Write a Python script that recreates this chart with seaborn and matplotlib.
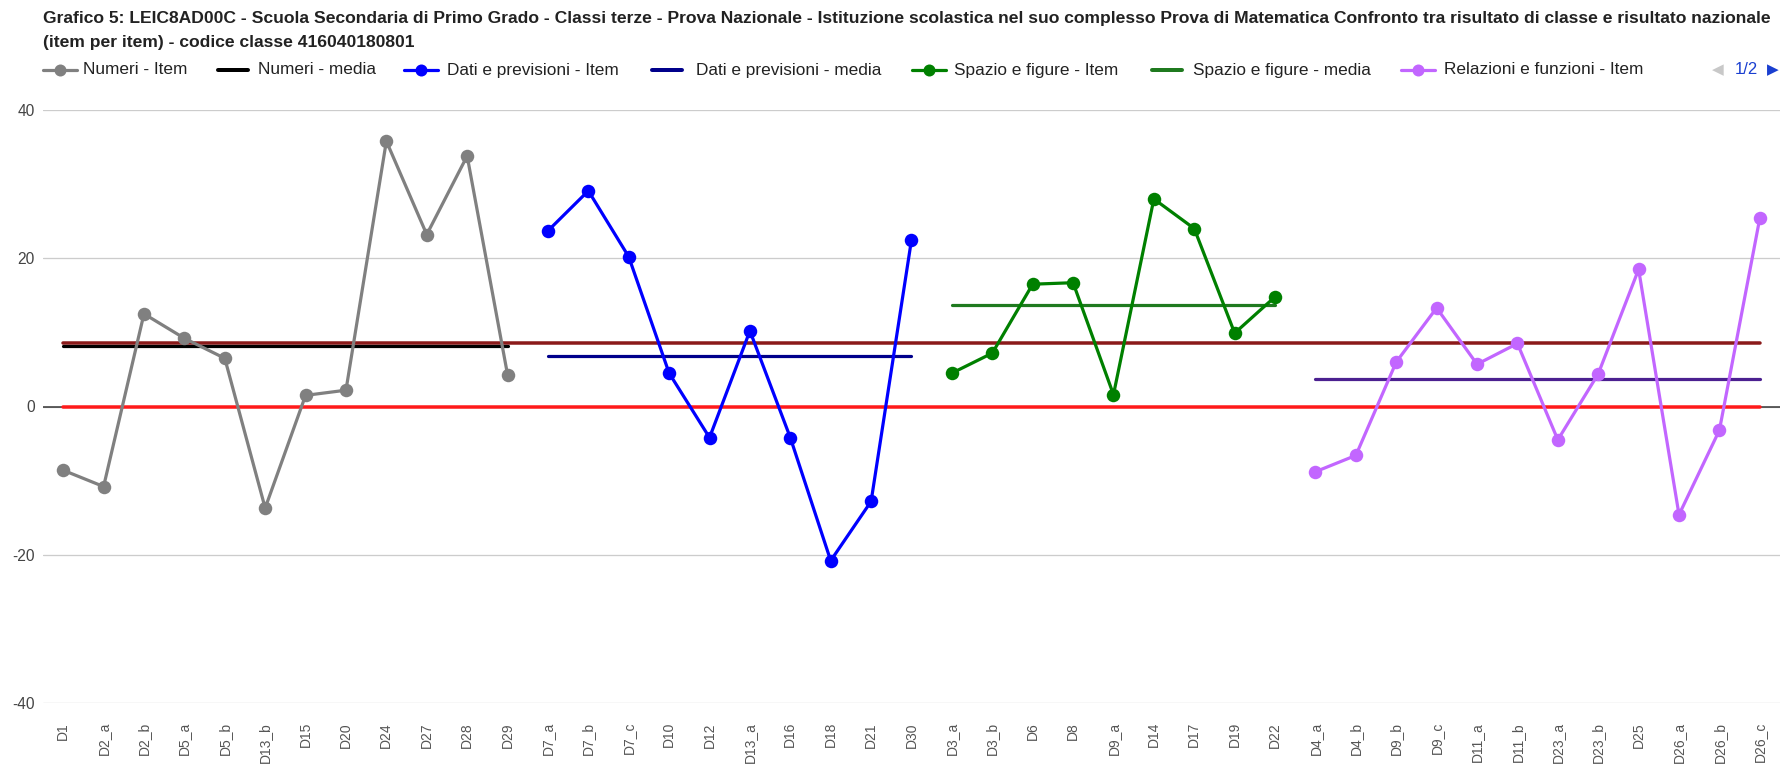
import numpy as np
import pandas as pd
import matplotlib
matplotlib.use("Agg")
import matplotlib.pyplot as plt
from matplotlib.lines import Line2D
import seaborn as sns

# ---- data ----
numeri_items = ["D1", "D2_a", "D2_b", "D5_a", "D5_b", "D13_b", "D15", "D20", "D24", "D27", "D28", "D29"]
numeri_vals = [-8.6, -10.8, 12.5, 9.2, 6.5, -13.7, 1.5, 2.2, 35.8, 23.2, 33.8, 4.3]
numeri_media = 8.1

dati_items = ["D7_a", "D7_b", "D7_c", "D10", "D12", "D13_a", "D16", "D18", "D21", "D30"]
dati_vals = [23.7, 29.1, 20.2, 4.5, -4.2, 10.2, -4.2, -20.8, -12.8, 22.5]
dati_media = 6.8

spazio_items = ["D3_a", "D3_b", "D6", "D8", "D9_a", "D14", "D17", "D19", "D22"]
spazio_vals = [4.5, 7.2, 16.5, 16.7, 1.6, 28.0, 24.0, 9.9, 14.8]
spazio_media = 13.7

relazioni_items = ["D4_a", "D4_b", "D9_b", "D9_c", "D11_a", "D11_b", "D23_a", "D23_b", "D25", "D26_a", "D26_b", "D26_c"]
relazioni_vals = [-8.8, -6.6, 6.0, 13.3, 5.7, 8.5, -4.5, 4.4, 18.5, -14.6, -3.2, 25.4]
relazioni_media = 3.7

media_generale = 8.6
riferimento = 0

title_1 = ("Grafico 5: LEIC8AD00C - Scuola Secondaria di Primo Grado - Classi terze - Prova Nazionale - "
           "Istituzione scolastica nel suo complesso Prova di Matematica Confronto tra risultato di classe "
           "e risultato nazionale")
title_2 = "(item per item) - codice classe 416040180801"

groups = [
    ("Numeri", numeri_items, numeri_vals, numeri_media, "#808080", "#000000"),
    ("Dati e previsioni", dati_items, dati_vals, dati_media, "#0000ff", "#00008b"),
    ("Spazio e figure", spazio_items, spazio_vals, spazio_media, "#008000", "#1f7a1f"),
    ("Relazioni e funzioni", relazioni_items, relazioni_vals, relazioni_media, "#c266ff", "#4b2090"),
]

# long table, one row per item
rows = []
for name, items, vals, media, c_item, c_media in groups:
    for it, v in zip(items, vals):
        rows.append({"gruppo": name, "item": it, "valore": v, "media": media})
df = pd.DataFrame(rows)
df["pos"] = np.arange(len(df))
all_items = df["item"].tolist()

# ---- figure ----
W, H = 1783, 764
sns.set_style("white")
plt.rcParams["font.family"] = ["Liberation Sans", "DejaVu Sans"]
plt.rcParams["axes.unicode_minus"] = False

fig = plt.figure(figsize=(W / 100, H / 100), dpi=100)
ax = fig.add_axes([43 / W, 1 - 703 / H, (1780 - 43) / W, (703 - 110) / H])

px = 72 / 100  # one pixel in points

ax.set_xlim(-0.5, len(all_items) - 0.5)
ax.set_ylim(-40, 40)
ax.set_yticks([-40, -20, 0, 20, 40])
ax.grid(axis="y", color="#cccccc", lw=1.3 * px)
ax.grid(axis="x", visible=False)
ax.axhline(0, color="#333333", lw=1.5 * px, zorder=1)
for s in ax.spines.values():
    s.set_visible(False)

# overall lines across all items
full = pd.DataFrame({"pos": df["pos"], "gen": media_generale, "rif": riferimento})
sns.lineplot(data=full, x="pos", y="gen", color="#8b1a1a", lw=3.5 * px, ax=ax, zorder=3)
sns.lineplot(data=full, x="pos", y="rif", color="#ff1a1a", lw=3.5 * px, ax=ax, zorder=3)

for name, items, vals, media, c_item, c_media in groups:
    g = df[df["gruppo"] == name]
    sns.lineplot(data=g, x="pos", y="media", color=c_media, lw=3.2 * px, ax=ax, zorder=4)
    sns.lineplot(data=g, x="pos", y="valore", color=c_item, lw=3.2 * px, marker="o",
                 markersize=13.5 * px, markeredgewidth=0, ax=ax, zorder=5)

ax.set_xlabel("")
ax.set_ylabel("")
ax.set_xticks(df["pos"])
ax.set_xticklabels(all_items, rotation=90, fontsize=10, color="#555555")
ax.tick_params(axis="x", length=0, pad=19 * px)
ax.tick_params(axis="y", length=0, pad=8 * px, labelsize=11.2, labelcolor="#444444")

# ---- title, fitted to the width of the original ----
r = fig.canvas.get_renderer()
t1 = fig.text(43 / W, 1 - 19 / H, title_1, fontsize=11, fontweight="bold", color="#222222",
              ha="left", va="center")
w = t1.get_window_extent(r).width
fs_title = 11 * (1777 - 43) / w
t1.set_fontsize(fs_title)
fig.text(43 / W, 1 - 42 / H, title_2, fontsize=fs_title, fontweight="bold", color="#222222",
         ha="left", va="center")

# ---- legend (first page), placed like the original ----
leg_y = 1 - 70 / H
leg_entries = [
    ("Numeri - Item", "#808080", True, 43, 83),
    ("Numeri - media", "#000000", False, 218, 258),
    ("Dati e previsioni - Item", "#0000ff", True, 404, 447),
    ("Dati e previsioni - media", "#00008b", False, 652, 696),
    ("Spazio e figure - Item", "#008000", True, 912, 954),
    ("Spazio e figure - media", "#1f7a1f", False, 1152, 1193),
    ("Relazioni e funzioni - Item", "#c266ff", True, 1401, 1444),
]
for label, col, has_marker, hx, tx in leg_entries:
    if has_marker:
        fig.add_artist(Line2D([hx / W, (hx + 34) / W], [leg_y, leg_y], transform=fig.transFigure,
                              color=col, lw=3.2 * px))
        fig.add_artist(Line2D([(hx + 17) / W], [leg_y], transform=fig.transFigure, color=col,
                              marker="o", markersize=12 * px, markeredgewidth=0))
    else:
        fig.add_artist(Line2D([hx / W, (hx + 30) / W], [leg_y, leg_y], transform=fig.transFigure,
                              color=col, lw=4 * px))
    fig.text(tx / W, leg_y, label, fontsize=12.4, color="#222222", ha="left", va="center")

fig.text(1718 / W, leg_y, "\u25c0", fontsize=11, color="#c8c8c8", ha="center", va="center",
         family=["DejaVu Sans"])
fig.text(1746 / W, leg_y, "1/2", fontsize=12, color="#1a3fd0", ha="center", va="center")
fig.text(1773 / W, leg_y, "\u25b6", fontsize=11, color="#1a3fd0", ha="center", va="center",
         family=["DejaVu Sans"])

fig.savefig("out.png", dpi=100)
